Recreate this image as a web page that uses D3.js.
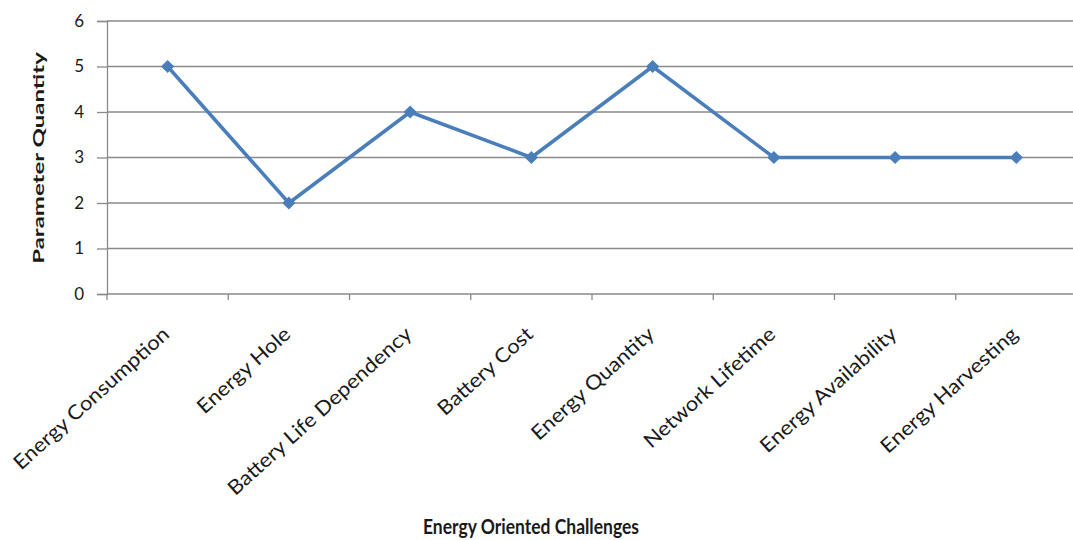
<!DOCTYPE html>
<html>
<head>
<meta charset="utf-8">
<script src="https://cdn.jsdelivr.net/npm/d3@7"></script>
<style>
  html, body { margin: 0; padding: 0; background: #fff; }
  svg { display: block; }
  text { font-family: Lato, "Open Sans", sans-serif; fill: #1a1a1a; }
</style>
</head>
<body>
<svg id="chart" width="1073" height="540"></svg>
<script>
// Energy oriented challenges and their parameter counts
const categories = [
  "Energy Consumption", "Energy Hole", "Battery Life Dependency", "Battery Cost",
  "Energy Quantity", "Network Lifetime", "Energy Availability", "Energy Harvesting"
];
const values = [5, 2, 4, 3, 5, 3, 3, 3];
const yTicks = [0, 1, 2, 3, 4, 5, 6];
const xTitle = "Energy Oriented Challenges";
const yTitle = "Parameter Quantity";

const svg = d3.select("#chart");
const W = 1073, H = 540;
const plot = { left: 107, right: 1077, top: 21, bottom: 294 };

const x = d3.scaleBand().domain(categories).range([plot.left, plot.right]).padding(0);
const y = d3.scaleLinear().domain([0, 6]).range([plot.bottom, plot.top]);

const gridColor = "#8a8a8a";
const lineColor = "#4a7ebb";

// horizontal gridlines
svg.append("g").selectAll("line").data(yTicks.filter(d => d > 0)).join("line")
  .attr("x1", plot.left).attr("x2", W)
  .attr("y1", d => y(d)).attr("y2", d => y(d))
  .attr("stroke", gridColor).attr("stroke-width", 1.3);

// y axis
const yAxis = svg.append("g").attr("transform", `translate(${plot.left},0)`)
  .call(d3.axisLeft(y).tickValues(yTicks).tickSize(10).tickPadding(13).tickFormat(d3.format("d")));
yAxis.select(".domain").attr("stroke", gridColor).attr("stroke-width", 1.3);
yAxis.selectAll(".tick line").attr("stroke", gridColor).attr("stroke-width", 1.3);
yAxis.selectAll(".tick text").attr("font-size", 17).attr("fill", "#1a1a1a")
  .style("font-family", "Lato, sans-serif");

// x axis: ticks sit on category boundaries
const xAxisG = svg.append("g").attr("transform", `translate(0,${plot.bottom})`);
xAxisG.append("line").attr("x1", plot.left).attr("x2", W)
  .attr("stroke", gridColor).attr("stroke-width", 1.3);
const boundaries = categories.map(c => x(c)).concat([x(categories[categories.length - 1]) + x.bandwidth()]);
xAxisG.selectAll("line.tk").data(boundaries).join("line").attr("class", "tk")
  .attr("x1", d => d).attr("x2", d => d).attr("y1", 0).attr("y2", 6)
  .attr("stroke", gridColor).attr("stroke-width", 1.3);

// rotated category labels
const angle = -42;
svg.append("g").selectAll("text").data(categories).join("text")
  .attr("transform", d => `translate(${x(d) + x.bandwidth() / 2 + 3},${plot.bottom + 42}) rotate(${angle}) scale(1.1,1)`)
  .attr("text-anchor", "end")
  .attr("font-size", 20)
  .text(d => d);

// series line
const cx = d => x(d) + x.bandwidth() / 2;
const line = d3.line().x((d, i) => cx(categories[i])).y(d => y(d));
svg.append("path").datum(values)
  .attr("d", line).attr("fill", "none")
  .attr("stroke", lineColor).attr("stroke-width", 3.5).attr("stroke-linejoin", "round");

// diamond markers
const diamond = d3.symbol().type(d3.symbolDiamond2).size(110);
svg.append("g").selectAll("path").data(values).join("path")
  .attr("transform", (d, i) => `translate(${cx(categories[i])},${y(d)})`)
  .attr("d", diamond).attr("fill", lineColor);

// axis titles
svg.append("text")
  .attr("transform", `translate(531,534) scale(1,1.15)`)
  .attr("text-anchor", "middle").attr("font-weight", "bold").attr("font-size", 17.5)
  .text(xTitle);

svg.append("text")
  .attr("transform", `translate(44,158) rotate(-90) scale(1.6,1)`)
  .attr("text-anchor", "middle").attr("font-weight", "bold").attr("font-size", 15)
  .text(yTitle);
</script>
</body>
</html>
